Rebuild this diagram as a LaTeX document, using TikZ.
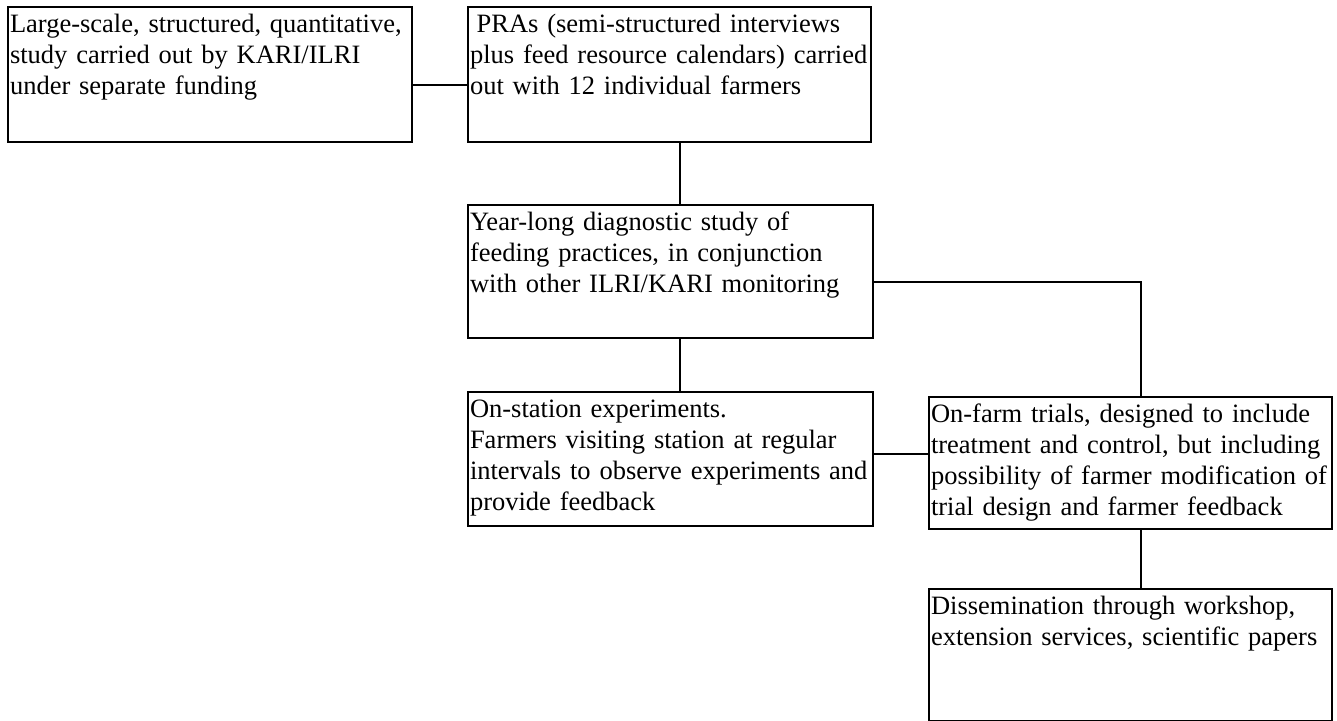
\documentclass[tikz,border=0pt]{standalone}
\usepackage{fontspec}
\setmainfont{Liberation Serif}
\usepackage{tikz}
\usetikzlibrary{positioning,calc}

\begin{document}
\begin{tikzpicture}[x=1pt,y=-1pt,font={\fontsize{26.5}{31}\selectfont},
  stage/.style={draw,line width=1.4pt,anchor=north west,align=left,inner xsep=2pt,inner ysep=0pt,outer sep=0pt,text height=25pt},
  link/.style={line width=1.4pt}]
\useasboundingbox (0,0) rectangle (1337,720);
\node[stage,text width=400pt,text depth=110pt] (survey) at (8,7) {Large-scale, structured, quantitative,\\study carried out by KARI/ILRI\\under separate funding};
\node[stage,text width=399pt,text depth=110pt] (pra) at (468,7) {\hspace*{0.25em}PRAs (semi-structured interviews\\plus feed resource calendars) carried\\out with 12 individual farmers};
\node[stage,text width=401pt,text depth=108pt] (diag) at (468,205) {Year-long diagnostic study of\\feeding practices, in conjunction\\with other ILRI/KARI monitoring};
\node[stage,text width=401pt,text depth=109pt] (station) at (468,392) {On-station experiments.\\Farmers visiting station at regular\\intervals to observe experiments and\\provide feedback};
\node[stage,text width=399pt,text depth=107pt] (farm) at (929,397) {On-farm trials, designed to include\\treatment and control, but including\\possibility of farmer modification of\\trial design and farmer feedback};
\node[stage,text width=399pt,text depth=107pt] (dissem) at (929,589) {Dissemination through workshop,\\extension services, scientific papers};
\draw[link] ([yshift=-10.5pt]survey.east) -- ([yshift=-10.5pt]survey.east -| pra.west);
\draw[link] ([xshift=10.5pt]pra.south) -- ([xshift=10.5pt]pra.south |- diag.north);
\draw[link] ([xshift=9.5pt]diag.south) -- ([xshift=9.5pt]diag.south |- station.north);
\draw[link] ([yshift=-10.5pt]diag.east) -| ([xshift=10.5pt]farm.north);
\draw[link] ([yshift=5pt]station.east) -- ([yshift=5pt]station.east -| farm.west);
\draw[link] ([xshift=10.5pt]farm.south) -- ([xshift=10.5pt]farm.south |- dissem.north);
\end{tikzpicture}
\end{document}
